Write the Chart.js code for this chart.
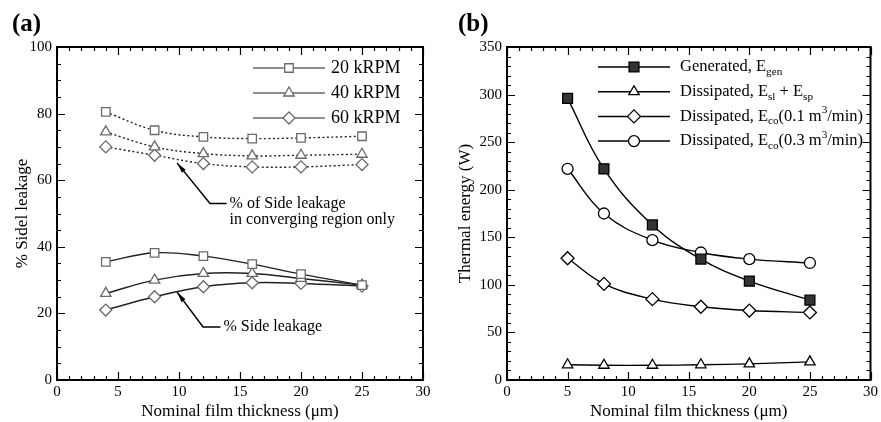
<!DOCTYPE html>
<html>
<head>
<meta charset="utf-8">
<script src="https://cdn.jsdelivr.net/npm/chart.js@4"></script>
<style>
  body { margin: 0; background: #fff; }
  #wrap { position: relative; width: 881px; height: 422px; }
  .box { position: absolute; top: 0; height: 422px; }
  .panel { position: absolute; top: 9px; line-height: 1.2; font: bold 25px "Liberation Serif", serif; }
</style>
</head>
<body>
<div id="wrap">
  <div class="box" style="left:0;width:440px"><canvas id="chartA" width="440" height="422"></canvas></div>
  <div class="box" style="left:440px;width:441px"><canvas id="chartB" width="441" height="422"></canvas></div>
  <div class="panel" style="left:12px">(a)</div>
  <div class="panel" style="left:458px">(b)</div>
</div>
<script>
// film thickness (um)
var filmA = [4, 8, 12, 16, 20, 25]
var filmB = [5, 8, 12, 16, 20, 25]

// (a) % side leakage
var side20 = [35.5, 38.2, 37.2, 34.8, 31.8, 28.5]
var side40 = [26, 30, 32, 32, 30.5, 28.5]
var side60 = [21, 25, 28, 29.2, 29, 28.2]
// (a) % side leakage in converging region only
var conv20 = [80.5, 75, 73, 72.5, 72.7, 73.2]
var conv40 = [74.5, 70, 68, 67.3, 67.5, 67.8]
var conv60 = [70, 67.5, 65, 64, 64, 64.7]

// (b) thermal energy (W)
var eGen = [296, 222, 163, 127, 104, 84]
var eSlSp = [16, 15.5, 15.5, 16, 17, 19]
var eCo01 = [128, 101, 85, 77, 73, 71]
var eCo03 = [222, 175, 147, 134, 127, 123]

var FONT = '"Liberation Serif", serif'

function pts(xs, ys){
  return xs.map(function(x, i){ return {x: x, y: ys[i]} })
}

// frame with inward ticks on all four sides
var frameTicks = {
  id: 'frameTicks',
  afterDatasetsDraw: function(chart, args, o){
    var ctx = chart.ctx, a = chart.chartArea
    var xs = chart.scales.x, ys = chart.scales.y
    ctx.save()
    ctx.strokeStyle = '#000'
    ctx.lineWidth = 1.2
    var i, v, p, len
    for(i = 0; i * o.xMinor <= xs.max; i++){
      v = i * o.xMinor
      p = Math.round(xs.getPixelForValue(v)) + 0.5
      len = (i % o.xEvery == 0) ? 8 : 4
      ctx.beginPath()
      ctx.moveTo(p, a.bottom); ctx.lineTo(p, a.bottom - len)
      ctx.moveTo(p, a.top); ctx.lineTo(p, a.top + len)
      ctx.stroke()
    }
    for(i = 0; i * o.yMinor <= ys.max; i++){
      v = i * o.yMinor
      p = Math.round(ys.getPixelForValue(v)) + 0.5
      len = (i % o.yEvery == 0) ? 8 : 4
      ctx.beginPath()
      ctx.moveTo(a.left, p); ctx.lineTo(a.left + len, p)
      ctx.moveTo(a.right, p); ctx.lineTo(a.right - len, p)
      ctx.stroke()
    }
    ctx.lineWidth = 2
    ctx.strokeRect(a.left, a.top, a.right - a.left, a.bottom - a.top)
    ctx.restore()
  }
}

// text made of pieces, some sub/superscript
function drawRich(ctx, parts, x, y, size){
  parts.forEach(function(p){
    var s = p.sub || p.sup ? size * 0.68 : size
    var dy = p.sub ? size * 0.3 : (p.sup ? -size * 0.38 : 0)
    ctx.font = s + 'px ' + FONT
    ctx.fillText(p.t, x, y + dy)
    x += ctx.measureText(p.t).width
  })
}

var keyBox = {
  id: 'keyBox',
  afterDatasetsDraw: function(chart, args, o){
    var ctx = chart.ctx
    ctx.save()
    ctx.textBaseline = 'middle'
    o.items.forEach(function(it, i){
      var y = o.y + i * o.gap
      ctx.strokeStyle = o.lineColor
      ctx.lineWidth = 1.5
      ctx.beginPath()
      ctx.moveTo(o.x0, y); ctx.lineTo(o.x1, y)
      ctx.stroke()
      ctx.fillStyle = it.fill
      ctx.strokeStyle = it.stroke
      ctx.lineWidth = 1.3
      Chart.helpers.drawPoint(ctx, {pointStyle: it.style, radius: it.r, rotation: 0, borderWidth: 1.3}, (o.x0 + o.x1) / 2, y)
      ctx.fillStyle = '#000'
      drawRich(ctx, it.text, o.tx, y, o.size)
    })
    ctx.restore()
  }
}

var notes = {
  id: 'notes',
  afterDatasetsDraw: function(chart, args, o){
    var ctx = chart.ctx, xs = chart.scales.x, ys = chart.scales.y
    ctx.save()
    o.list.forEach(function(n){
      var hx = xs.getPixelForValue(n.head[0]), hy = ys.getPixelForValue(n.head[1])
      var ex = xs.getPixelForValue(n.elbow[0]), ey = ys.getPixelForValue(n.elbow[1])
      var tx = xs.getPixelForValue(n.end)
      ctx.strokeStyle = '#000'
      ctx.lineWidth = 1.5
      ctx.beginPath()
      ctx.moveTo(tx, ey); ctx.lineTo(ex, ey); ctx.lineTo(hx, hy)
      ctx.stroke()
      var ang = Math.atan2(hy - ey, hx - ex)
      ctx.fillStyle = '#000'
      ctx.beginPath()
      ctx.moveTo(hx, hy)
      ctx.lineTo(hx - 11 * Math.cos(ang - 0.22), hy - 11 * Math.sin(ang - 0.22))
      ctx.lineTo(hx - 11 * Math.cos(ang + 0.22), hy - 11 * Math.sin(ang + 0.22))
      ctx.closePath()
      ctx.fill()
      ctx.font = '16px ' + FONT
      ctx.textBaseline = 'middle'
      n.lines.forEach(function(t, k){
        ctx.fillText(t, tx + 3, ey + k * 16)
      })
    })
    ctx.restore()
  }
}

function axes(yMax, yStep, yTitle, yWidth, titlePad){
  return {
    x: {
      type: 'linear', min: 0, max: 30,
      grid: {display: false, drawTicks: false}, border: {display: false},
      ticks: {stepSize: 5, padding: 3, color: '#000', font: {family: FONT, size: 15}},
      title: {display: true, text: 'Nominal film thickness (\u03bcm)', color: '#000', font: {family: FONT, size: 17}, padding: {top: 0, bottom: 0}},
      afterFit: function(s){ s.height = 42 }
    },
    y: {
      min: 0, max: yMax,
      grid: {display: false, drawTicks: false}, border: {display: false},
      ticks: {stepSize: yStep, padding: 5, color: '#000', font: {family: FONT, size: 15}},
      title: {display: true, text: yTitle, color: '#000', font: {family: FONT, size: 17}, padding: titlePad},
      afterFit: function(s){ s.width = yWidth }
    }
  }
}

function line(data, dash, style, r, fill, stroke, lineColor){
  return {
    data: data,
    borderColor: lineColor,
    borderWidth: 1.4,
    borderDash: dash,
    tension: 0.4,
    pointStyle: style,
    pointRadius: r,
    pointBackgroundColor: fill,
    pointBorderColor: stroke,
    pointBorderWidth: 1.3
  }
}

var grey = '#6a6a6a'
var dots = [2, 2.5]

new Chart(document.getElementById('chartA').getContext('2d'), {
  type: 'line',
  data: {
    datasets: [
      line(pts(filmA, conv20), dots, 'rect', 6, '#fff', grey, '#222'),
      line(pts(filmA, conv40), dots, 'triangle', 6, '#fff', grey, '#222'),
      line(pts(filmA, conv60), dots, 'rectRot', 6, '#fff', grey, '#222'),
      line(pts(filmA, side20), [], 'rect', 6, '#fff', grey, '#222'),
      line(pts(filmA, side40), [], 'triangle', 6, '#fff', grey, '#222'),
      line(pts(filmA, side60), [], 'rectRot', 6, '#fff', grey, '#222')
    ]
  },
  options: {
    responsive: false,
    animation: false,
    layout: {padding: {left: 0, right: 17, top: 47, bottom: 0}},
    scales: axes(100, 20, '% Sidel leakage', 57, {top: 12, bottom: 0}),
    plugins: {
      legend: {display: false},
      tooltip: {enabled: false},
      frameTicks: {xMinor: 1, xEvery: 5, yMinor: 5, yEvery: 4},
      keyBox: {
        x0: 253, x1: 325, tx: 331, y: 68, gap: 25, size: 18, lineColor: grey,
        items: [
          {style: 'rect', r: 6, fill: '#fff', stroke: grey, text: [{t: '20 kRPM'}]},
          {style: 'triangle', r: 6, fill: '#fff', stroke: grey, text: [{t: '40 kRPM'}]},
          {style: 'rectRot', r: 6, fill: '#fff', stroke: grey, text: [{t: '60 kRPM'}]}
        ]
      },
      notes: {
        list: [
          {head: [9.84, 65.2], elbow: [12.54, 53], end: 13.9, lines: ['% of Side leakage', 'in converging region only']},
          {head: [9.84, 26.4], elbow: [11.97, 15.9], end: 13.4, lines: ['% Side leakage']}
        ]
      }
    }
  },
  plugins: [frameTicks, keyBox, notes]
})

new Chart(document.getElementById('chartB').getContext('2d'), {
  type: 'line',
  data: {
    datasets: [
      line(pts(filmB, eGen), [], 'rect', 7, '#333', '#000', '#000'),
      line(pts(filmB, eSlSp), [], 'triangle', 6, '#fff', '#000', '#000'),
      line(pts(filmB, eCo01), [], 'rectRot', 6.5, '#fff', '#000', '#000'),
      line(pts(filmB, eCo03), [], 'circle', 5.5, '#fff', '#000', '#000')
    ]
  },
  options: {
    responsive: false,
    animation: false,
    layout: {padding: {left: 0, right: 8, top: 47, bottom: 0}},
    scales: axes(350, 50, 'Thermal energy (W)', 67, {top: 15, bottom: 0}),
    plugins: {
      legend: {display: false},
      tooltip: {enabled: false},
      frameTicks: {xMinor: 1, xEvery: 5, yMinor: 10, yEvery: 5},
      keyBox: {
        x0: 158, x1: 230, tx: 240, y: 67, gap: 24.7, size: 16.5, lineColor: '#000',
        items: [
          {style: 'rect', r: 7, fill: '#333', stroke: '#000', text: [{t: 'Generated, E'}, {t: 'gen', sub: true}]},
          {style: 'triangle', r: 6, fill: '#fff', stroke: '#000', text: [{t: 'Dissipated, E'}, {t: 'sl', sub: true}, {t: ' + E'}, {t: 'sp', sub: true}]},
          {style: 'rectRot', r: 6.5, fill: '#fff', stroke: '#000', text: [{t: 'Dissipated, E'}, {t: 'co', sub: true}, {t: '(0.1 m'}, {t: '3', sup: true}, {t: '/min)'}]},
          {style: 'circle', r: 5.5, fill: '#fff', stroke: '#000', text: [{t: 'Dissipated, E'}, {t: 'co', sub: true}, {t: '(0.3 m'}, {t: '3', sup: true}, {t: '/min)'}]}
        ]
      }
    }
  },
  plugins: [frameTicks, keyBox]
})
</script>
</body>
</html>
